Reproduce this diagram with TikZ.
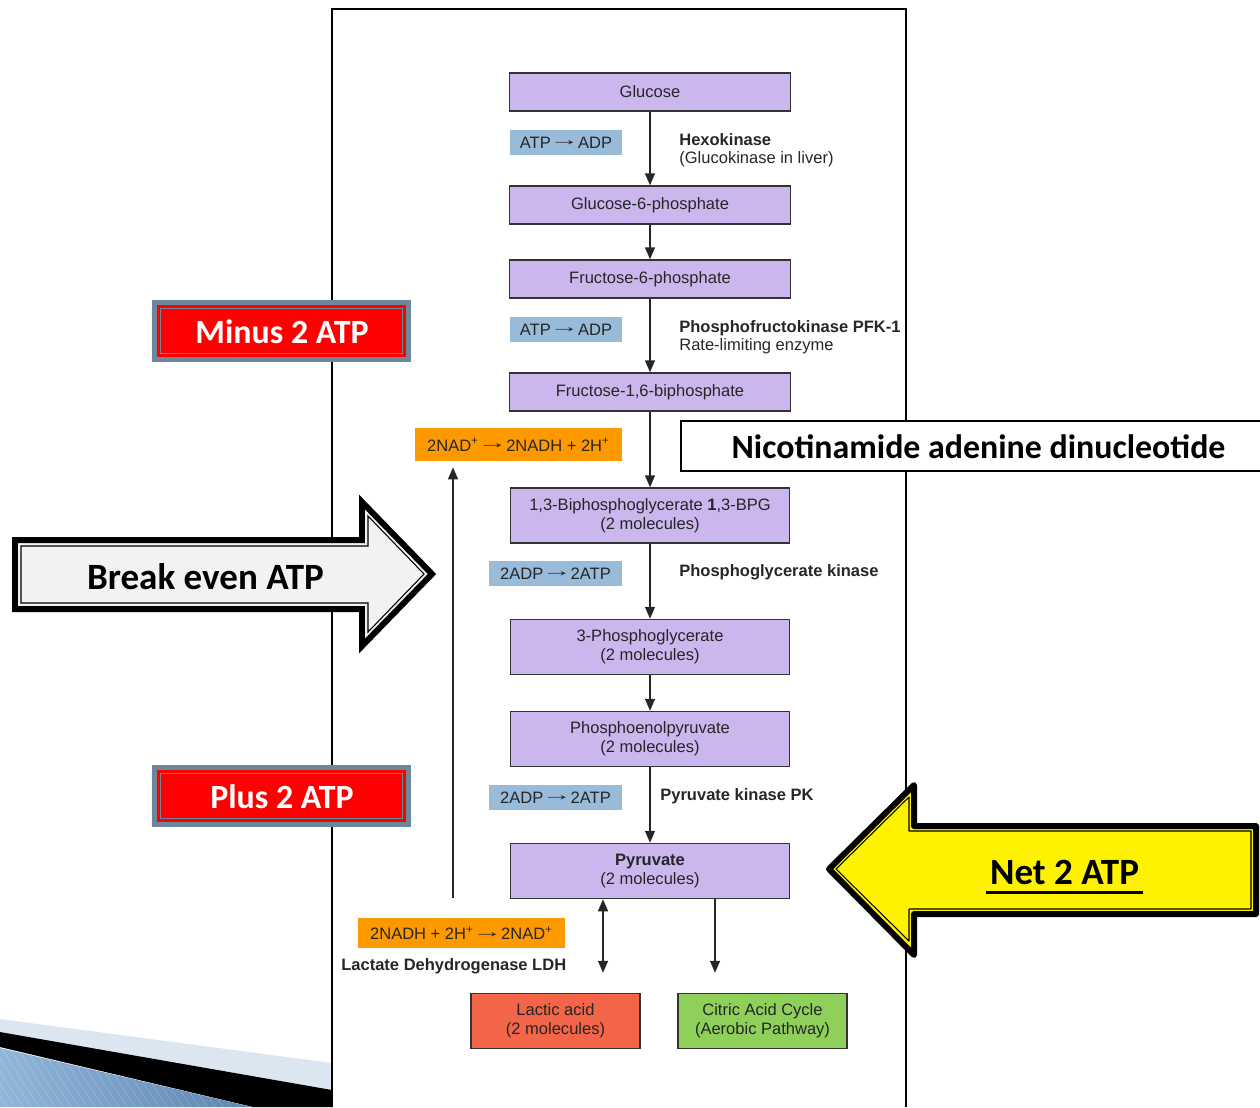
\documentclass[tikz,border=0pt]{standalone}
\usepackage{fontspec}
\usepackage{graphicx}
\setmainfont{Liberation Sans}
\newfontfamily\calfont{Carlito}
\usetikzlibrary{arrows.meta}
\definecolor{boxpurple}{RGB}{204,182,238}
\definecolor{boxblue}{RGB}{152,187,217}
\definecolor{boxorange}{RGB}{255,153,0}
\definecolor{boxred}{RGB}{244,100,72}
\definecolor{boxgreen}{RGB}{142,208,90}
\definecolor{framegray}{RGB}{110,135,155}
\definecolor{evenfill}{RGB}{242,242,242}
\definecolor{swlight}{RGB}{220,230,240}
\definecolor{swblueA}{RGB}{146,182,218}
\definecolor{swblueB}{RGB}{92,133,175}
\newcommand\rxarrow{\kern-0.07em\raisebox{0.28ex}{\scalebox{1.8}[1]{→}}\kern-0.07em}
\begin{document}
\begin{tikzpicture}[x=0.02cm,y=-0.02cm,
  every node/.style={inner sep=0pt},
  txt/.style={font=\fontsize{9.4}{10.6}\selectfont, text=black!85},
  mbox/.style={txt, draw=black!80, line width=0.85pt, fill=boxpurple, minimum width=5.6cm, minimum height=0.76cm, align=center},
  mboxtwo/.style={mbox, minimum width=5.58cm, minimum height=1.1cm},
  endbox/.style={txt, draw=black!80, line width=0.85pt, minimum width=3.38cm, minimum height=1.1cm, align=center},
  bluebox/.style={txt, fill=boxblue, minimum height=0.5cm},
  orangebox/.style={txt, fill=boxorange, minimum width=4.14cm},
  lab/.style={txt, anchor=west, align=left, font=\fontsize{9.4}{10.4}\selectfont\bfseries},
  arr/.style={draw=black!85, line width=0.85pt, -{Triangle[length=0.24cm,width=0.2cm]}},
  darr/.style={draw=black!85, line width=0.85pt, {Triangle[length=0.24cm,width=0.2cm]}-{Triangle[length=0.24cm,width=0.2cm]}},
  bigtxt/.style={font=\calfont\bfseries\fontsize{19.3}{23}\selectfont},
  hugetxt/.style={font=\calfont\bfseries\fontsize{21.1}{25}\selectfont}
]
\useasboundingbox (0,0) rectangle (1260,1107);

% bottom-left swoosh
\fill[swlight] (0,1019) -- (332,1063) -- (332,1090) -- (0,1032) -- cycle;
\fill[black] (0,1032) -- (332,1090) -- (332,1107) -- (253,1107) -- (0,1047) -- cycle;
\shade[left color=swblueA, right color=swblueB] (0,1048) -- (252,1107) -- (0,1107) -- cycle;
\begin{scope}
  \clip (0,1048) -- (252,1107) -- (0,1107) -- cycle;
  \foreach \k in {-60,-52,...,300} {
    \draw[white, opacity=0.18, line width=0.4pt] (\k,1040) -- (\k+45,1110);
  }
\end{scope}

% frame
\draw[black, line width=0.85pt] (332,1107) -- (332,9) -- (906,9) -- (906,1107);

% main pathway boxes
\node[mbox, minimum width=5.62cm] (glu) at (650,92) {Glucose};
\node[mbox, minimum width=5.62cm] (g6p) at (650,205) {Glucose-6-phosphate};
\node[mbox, minimum width=5.62cm] (f6p) at (650,279) {Fructose-6-phosphate};
\node[mbox, minimum width=5.62cm] (f16) at (650,392) {Fructose-1,6-biphosphate};
\node[mboxtwo] (bpg) at (650,515.5) {1,3-Biphosphoglycerate \textbf{1},3-BPG\\(2 molecules)};
\node[mboxtwo] (pg3) at (650,647) {3-Phosphoglycerate\\(2 molecules)};
\node[mboxtwo] (pep) at (650,739) {Phosphoenolpyruvate\\(2 molecules)};
\node[mboxtwo] (pyr) at (650,871) {\textbf{Pyruvate}\\(2 molecules)};
\node[endbox, fill=boxred] (lac) at (555.5,1021) {Lactic acid\\(2 molecules)};
\node[endbox, fill=boxgreen] (cac) at (762.5,1021) {Citric Acid Cycle\\(Aerobic Pathway)};

% side boxes
\node[bluebox, minimum width=2.24cm] (b1) at (566,142.5) {ATP\rxarrow ADP};
\node[bluebox, minimum width=2.24cm] (b2) at (566,329.5) {ATP\rxarrow ADP};
\node[bluebox, minimum width=2.66cm] (b3) at (555.5,573.5) {2ADP\rxarrow 2ATP};
\node[bluebox, minimum width=2.66cm] (b4) at (555.5,797.5) {2ADP\rxarrow 2ATP};
\node[orangebox, minimum height=0.66cm] (o1) at (518.5,444.5) {2NAD\textsuperscript{+}\rxarrow 2NADH + 2H\textsuperscript{+}};
\node[orangebox, minimum height=0.6cm] (o2) at (461.5,933) {2NADH + 2H\textsuperscript{+}\rxarrow 2NAD\textsuperscript{+}};

% enzyme labels
\node[lab] (hexo) at (679,150) {Hexokinase\\\mdseries(Glucokinase in liver)};
\node[lab] (pfk) at (679,337) {Phosphofructokinase PFK-1\\\mdseries Rate-limiting enzyme};
\node[lab] (pgk) at (679,572) {Phosphoglycerate kinase};
\node[lab] (pk) at (660,796) {Pyruvate kinase PK};
\node[lab] (ldh) at (341,966) {Lactate Dehydrogenase LDH};

% pathway arrows
\draw[arr] (glu) -- (g6p);
\draw[arr] (g6p) -- (f6p);
\draw[arr] (f6p) -- (f16);
\draw[arr] (f16) -- (bpg);
\draw[arr] (bpg) -- (pg3);
\draw[arr] (pg3) -- (pep);
\draw[arr] (pep) -- (pyr);
\coordinate (upstart) at (453,898);
\draw[arr, shorten >=0.12cm] (upstart) -- (o1.south -| upstart);
\coordinate (lx) at (603,898);
\coordinate (cx) at (715,898);
\draw[darr, shorten >=0.4cm] (pyr.south -| lx) -- (lac.north -| lx);
\draw[arr, shorten >=0.4cm] (pyr.south -| cx) -- (cac.north -| cx);

% Nicotinamide label
\draw[black, line width=0.85pt, fill=white] (681,421) rectangle (1262,471);
\node[bigtxt] (nad) at (978.5,447) {Nicotinamide adenine dinucleotide};

% Minus 2 ATP
\fill[framegray] (152,300) rectangle (411,362);
\fill[red] (157,305) rectangle (406,357);
\draw[framegray, line width=0.6pt] (160.5,308.5) rectangle (402.5,353.5);
\node[bigtxt, text=white] (minus) at (282,332) {Minus 2 ATP};

% Plus 2 ATP
\fill[framegray] (152,765) rectangle (411,827);
\fill[red] (157,770) rectangle (406,822);
\draw[framegray, line width=0.6pt] (160.5,773.5) rectangle (402.5,818.5);
\node[bigtxt, text=white] (plus) at (282,797) {Plus 2 ATP};

% Break even arrow
\filldraw[fill=evenfill, draw=black, line width=3.4pt, line join=miter]
  (15,540) -- (362,540) -- (362,502) -- (432,574) -- (362,646) -- (362,609) -- (15,609) -- cycle;
\draw[black, line width=0.6pt]
  (21,546) -- (368,546) -- (368,516) -- (424,574) -- (368,632) -- (368,603) -- (21,603) -- cycle;
\node[hugetxt] (even) at (205.5,577) {Break even ATP};

% Net 2 ATP arrow
\filldraw[fill=yellow, draw=black, line width=3.4pt, line join=round]
  (829,869) -- (914,785) -- (914,826) -- (1256,826) -- (1256,914) -- (914,914) -- (914,955) -- cycle;
\draw[black, line width=0.6pt, line join=round]
  (836,869) -- (909,797) -- (909,831) -- (1251,831) -- (1251,909) -- (909,909) -- (909,941) -- cycle;
\node[hugetxt] (net) at (1064.5,872) {Net 2 ATP};
\draw[black, line width=1.7pt] (986,892) -- (1143,892);
\end{tikzpicture}
\end{document}
